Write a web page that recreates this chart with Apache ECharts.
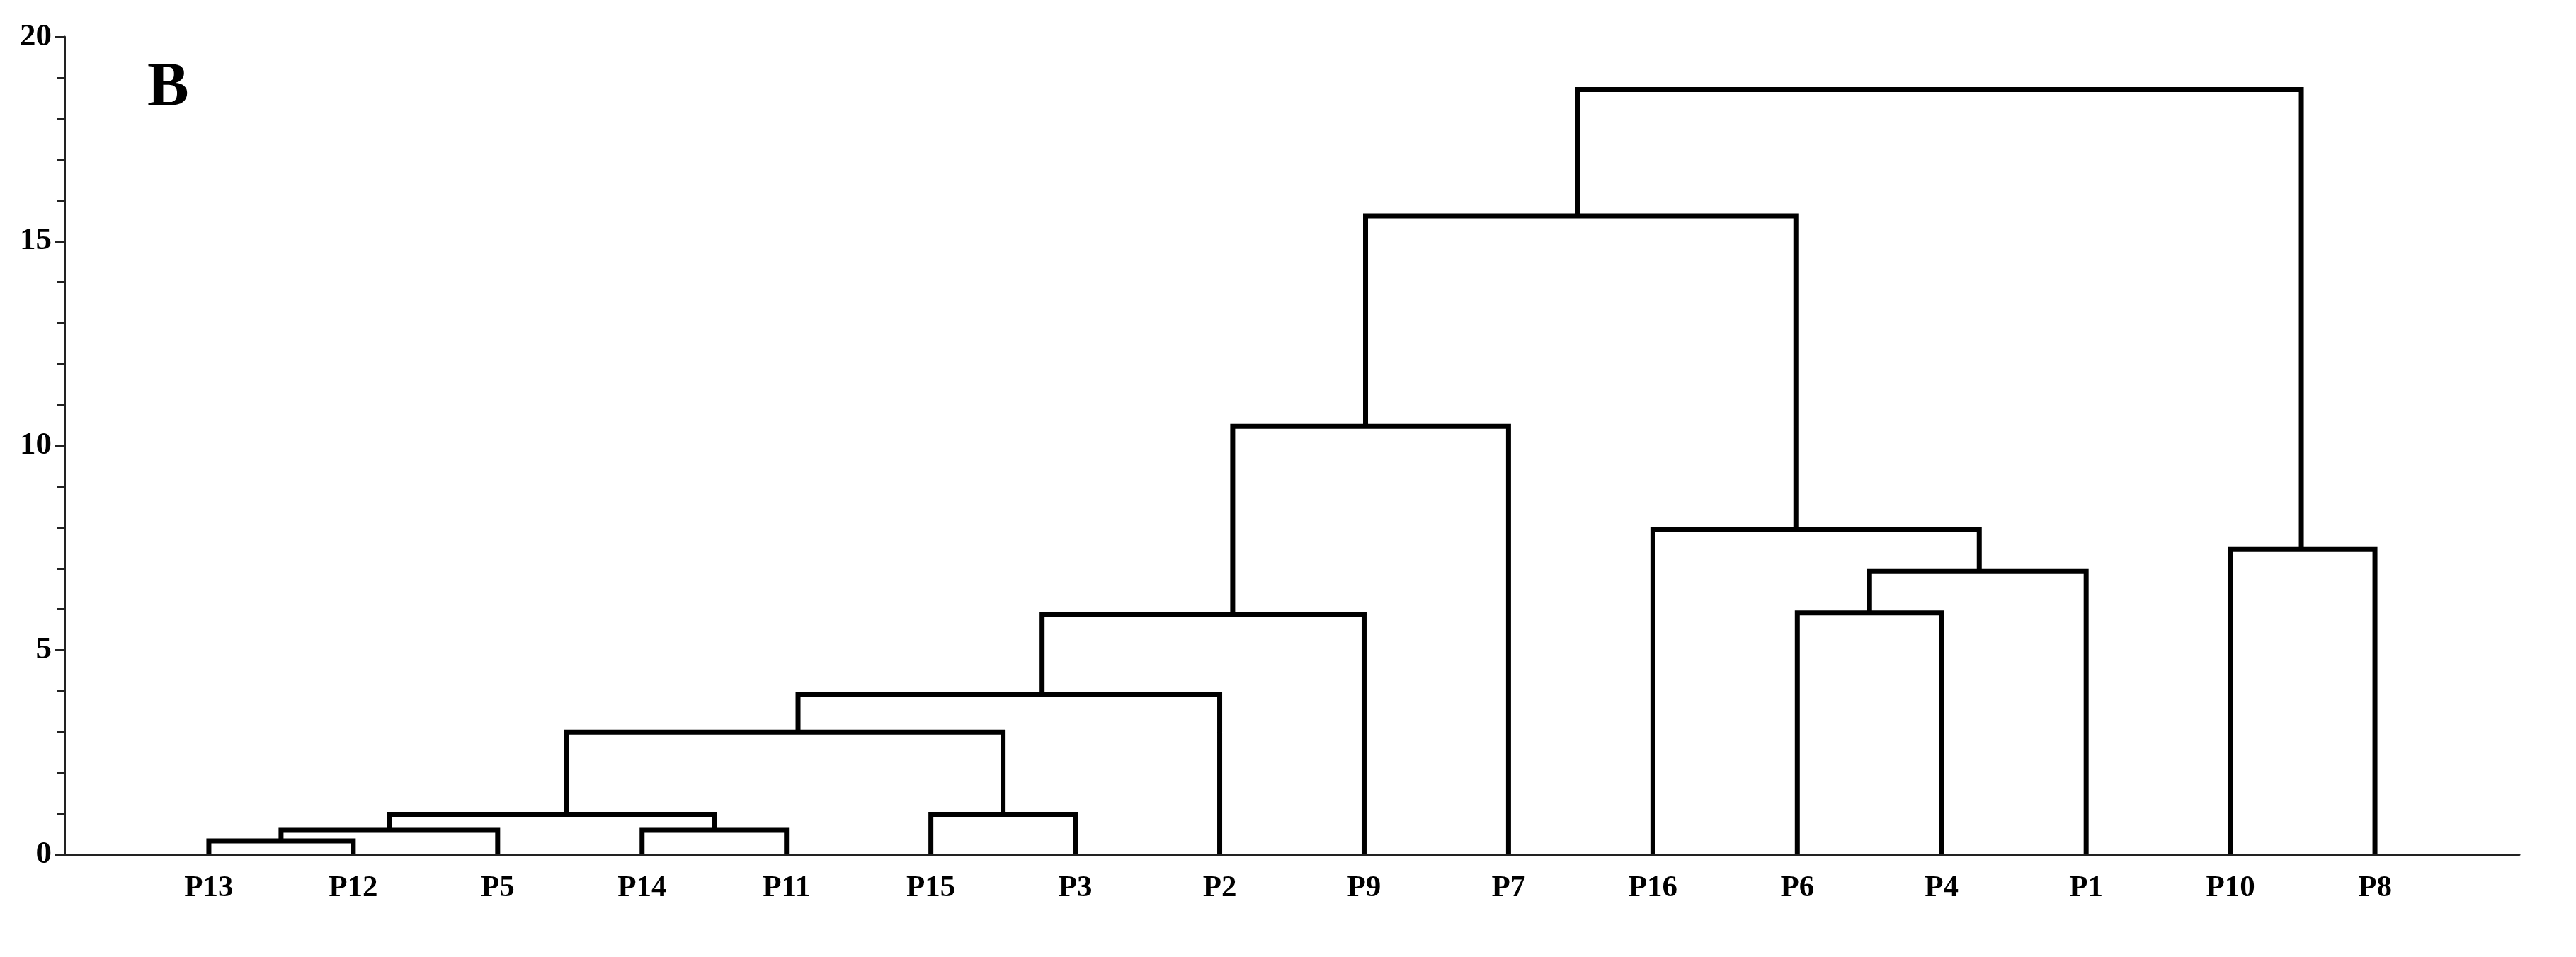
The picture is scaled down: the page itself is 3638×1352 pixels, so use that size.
<!DOCTYPE html>
<html>
<head>
<meta charset="utf-8">
<script src="https://cdn.jsdelivr.net/npm/echarts@6/dist/echarts.min.js"></script>
<style>
html,body{margin:0;padding:0;background:#fff;}
#chart{width:3638px;height:1352px;}
</style>
</head>
<body>
<div id="chart"></div>
<script>
// Leaf order along the x axis
const leaves = ['P13','P12','P5','P14','P11','P15','P3','P2','P9','P7','P16','P6','P4','P1','P10','P8'];
// Merge k (0-based) creates cluster "c(k+1)"
const mergeLeft   = ['P13','c1','P14','c2','P15','c4','c6','c7','c8','P6','c10','P16','c9','P10','c13'];
const mergeRight  = ['P12','P5','P11','c3','P3','c5','P2','P9','P7','P4','P1','c11','c12','P8','c14'];
const mergeHeight = [0.33, 0.59, 0.59, 0.98, 0.98, 2.99, 3.92, 5.86, 10.47, 5.91, 6.92, 7.95, 15.62, 7.46, 18.71];
// Position of each merged cluster's stem along the leaf axis (leaf-index units)
const mergeX      = [0.5, 1.25, 3.5, 2.475, 5.5, 4.08, 5.77, 7.09, 8.01, 11.5, 12.26, 10.99, 9.48, 14.49, 11.99];
// y-axis ticks
const yTicks = [0, 5, 10, 15, 20];
const panelLabel = 'B';

function nodeX(name){
  if (name[0] === 'c') return mergeX[parseInt(name.slice(1),10)-1];
  return leaves.indexOf(name);
}
function nodeH(name){
  if (name[0] === 'c') return mergeHeight[parseInt(name.slice(1),10)-1];
  return 0;
}
const links = mergeHeight.map((h,k)=>[nodeX(mergeLeft[k]), nodeH(mergeLeft[k]), nodeX(mergeRight[k]), nodeH(mergeRight[k]), h]);

const chart = echarts.init(document.getElementById('chart'));
const font = '"Liberation Serif","Times New Roman",serif';
chart.setOption({
  backgroundColor:'#fff',
  animation:false,
  title:{
    text: panelLabel, left: 203, top: 76,
    textStyle:{fontFamily:font, fontWeight:'bold', fontSize:88, color:'#000'}
  },
  grid:{left:91, right:80, top:52, bottom:145, containLabel:false},
  xAxis:{
    type:'value', min:-1, max:leaves.length, interval:1,
    axisLine:{show:true, onZero:false, lineStyle:{color:'#222', width:3}},
    axisTick:{show:false},
    splitLine:{show:false},
    axisLabel:{
      margin:26,
      fontFamily:font, fontWeight:'bold', fontSize:43, color:'#000',
      formatter:(v)=> (v>=0 && v<leaves.length && Number.isInteger(v)) ? leaves[v] : ''
    }
  },
  yAxis:{
    type:'value', min:yTicks[0], max:yTicks[yTicks.length-1], interval:yTicks[1]-yTicks[0],
    axisLine:{show:true, onZero:false, lineStyle:{color:'#222', width:3}},
    axisTick:{show:true, length:14, lineStyle:{color:'#222', width:3}},
    minorTick:{show:true, splitNumber:5, length:10, lineStyle:{color:'#222', width:3}},
    splitLine:{show:false},
    axisLabel:{margin:18, fontFamily:font, fontWeight:'bold', fontSize:45, color:'#000'}
  },
  series:[{
    type:'custom',
    clip:false,
    data: links,
    renderItem:(params, api)=>{
      const xL = api.value(0), hL = api.value(1), xR = api.value(2), hR = api.value(3), h = api.value(4);
      const pts = [
        api.coord([xL,hL]), api.coord([xL,h]), api.coord([xR,h]), api.coord([xR,hR])
      ];
      return {
        type:'polyline',
        shape:{points:pts},
        style:{stroke:'#000', lineWidth:7, fill:null, lineJoin:'miter', lineCap:'butt'}
      };
    }
  }]
});
</script>
</body>
</html>
